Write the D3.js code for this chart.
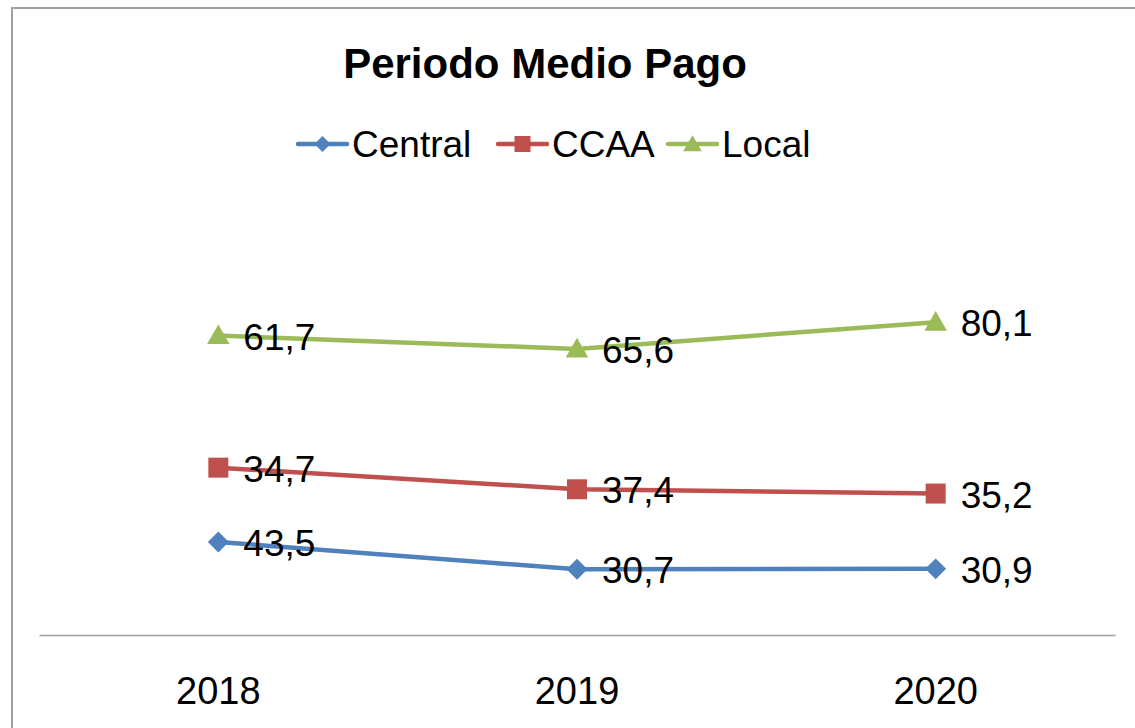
<!DOCTYPE html>
<html>
<head>
<meta charset="utf-8">
<script src="https://cdn.jsdelivr.net/npm/d3@7"></script>
<style>
  html, body { margin: 0; padding: 0; background: #fff; overflow: hidden; }
  svg { display: block; font-family: "Liberation Sans", Arial, sans-serif; }
</style>
</head>
<body>
<script>
// years on the x axis
var years = ["2018", "2019", "2020"];
// series names, in stacking order
var seriesNames = ["Central", "CCAA", "Local"];
var central = [43.5, 30.7, 30.9];
var ccaa = [34.7, 37.4, 35.2];
var local = [61.7, 65.6, 80.1];
var colors = ["#4F81BD", "#C0504D", "#9BBB59"];

var width = 1135,
    height = 728;

var svg = d3.select("body").append("svg")
    .attr("width", width)
    .attr("height", height);

// chart frame (right and bottom edges fall outside the picture)
svg.append("rect")
    .attr("x", 12).attr("y", 8)
    .attr("width", 1300).attr("height", 900)
    .attr("fill", "#fff")
    .attr("stroke", "#a0a0a0")
    .attr("stroke-width", 2);

// table for d3.stack
var rows = years.map(function(y, i) {
  return { year: y, Central: central[i], CCAA: ccaa[i], Local: local[i] };
});
var stacked = d3.stack().keys(seriesNames)(rows);

var x = d3.scaleBand()
    .domain(years)
    .range([39, 1115]);

var y = d3.scaleLinear()
    .domain([0, 200])
    .range([635, 207]);

// marker shape per series: diamond = rotated square
function marker(i, big) {
  if (i == 0) return { d: d3.symbol().type(d3.symbolSquare).size(big ? 220 : 130)(), rot: 45, dy: 0 };
  if (i == 1) return { d: d3.symbol().type(d3.symbolSquare).size(big ? 400 : 256)(), rot: 0, dy: 0 };
  return { d: d3.symbol().type(d3.symbolTriangle).size(big ? 220 : 150)(), rot: 0, dy: 2 };
}

// title
svg.append("text")
    .attr("x", 545).attr("y", 78)
    .attr("text-anchor", "middle")
    .style("font-weight", "bold")
    .style("font-size", "42px")
    .text("Periodo Medio Pago");

// legend
var legendX = [298, 498, 668];
var legend = svg.append("g").attr("class", "legend");
seriesNames.forEach(function(name, i) {
  var g = legend.append("g").attr("transform", "translate(" + legendX[i] + ",144)");
  var m = marker(i, false);
  g.append("line")
      .attr("x1", 0).attr("x2", 49)
      .attr("stroke", colors[i])
      .attr("stroke-width", 4.5)
      .attr("stroke-linecap", "round");
  g.append("path")
      .attr("transform", "translate(24.5," + m.dy + ") rotate(" + m.rot + ")")
      .attr("d", m.d)
      .attr("fill", colors[i]);
  g.append("text")
      .attr("x", 54).attr("y", 13)
      .style("font-size", "37px")
      .text(name);
});

// x axis line and labels
var xAxis = d3.axisBottom(x).tickSize(0).tickPadding(42);
var axisG = svg.append("g")
    .attr("transform", "translate(0,635)")
    .call(xAxis);
axisG.select(".domain").attr("stroke", "#a0a0a0").attr("stroke-width", 1.5);
axisG.selectAll(".tick text")
    .style("font-size", "38px")
    .style("font-family", "Liberation Sans, Arial, sans-serif")
    .attr("fill", "#000");

var line = d3.line()
    .x(function(d) { return x(d.data.year) + x.bandwidth() / 2; })
    .y(function(d) { return y(d[1]); });

var series = svg.selectAll(".series")
    .data(stacked)
    .enter()
    .append("g")
    .attr("class", "series");

series.append("path")
    .attr("d", line)
    .attr("fill", "none")
    .attr("stroke", function(d, i) { return colors[i]; })
    .attr("stroke-width", 4.5)
    .attr("stroke-linejoin", "round");

series.each(function(s, i) {
  var g = d3.select(this);
  var m = marker(i, true);
  g.selectAll(".marker")
      .data(s)
      .enter()
      .append("path")
      .attr("class", "marker")
      .attr("transform", function(d) {
        return "translate(" + (x(d.data.year) + x.bandwidth() / 2) + "," + (y(d[1]) + m.dy) + ") rotate(" + m.rot + ")";
      })
      .attr("d", m.d)
      .attr("fill", colors[i]);

  // value labels show the series' own value, not the stacked total
  g.selectAll(".label")
      .data(s)
      .enter()
      .append("text")
      .attr("class", "label")
      .attr("x", function(d) { return x(d.data.year) + x.bandwidth() / 2 + 25; })
      .attr("y", function(d) { return y(d[1]) + 14; })
      .style("font-size", "37px")
      .text(function(d) { return String(d.data[s.key]).replace(".", ","); });
});
</script>
</body>
</html>
